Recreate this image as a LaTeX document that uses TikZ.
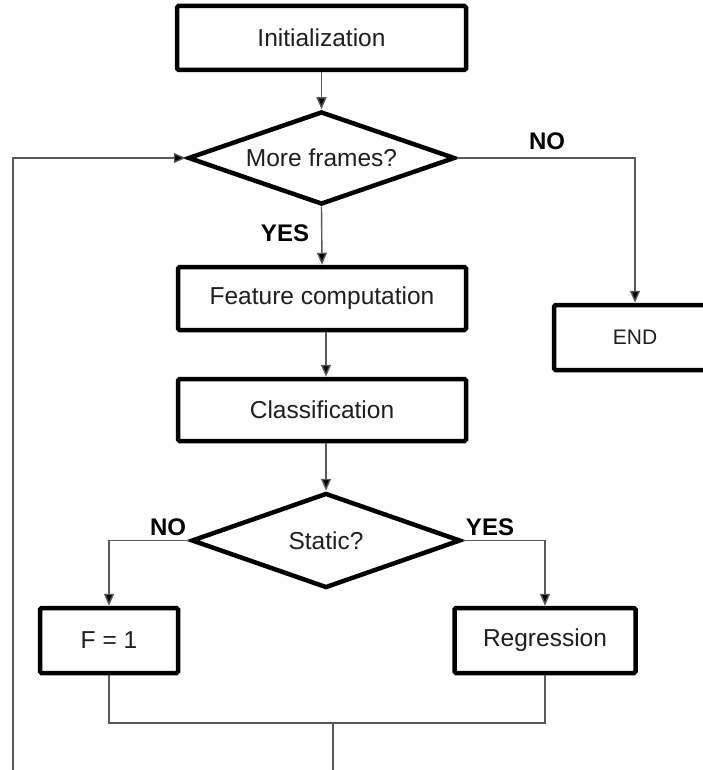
\documentclass[tikz,border=0pt]{standalone}
\usepackage{fontspec}
\setmainfont{Liberation Sans}
\usetikzlibrary{shapes.geometric,arrows.meta}
\tikzset{
  boxnode/.style={draw=black, line width=4.5pt, rounded corners=1.5pt, fill=white, inner sep=0pt,
    text=black!88, font=\fontsize{24.5}{28}\selectfont},
  decnode/.style={diamond, draw=black, line width=4.5pt, fill=white, inner sep=0pt},
  dectext/.style={text=black!88, font=\fontsize{24.5}{28}\selectfont, inner sep=0pt},
  conn/.style={draw=black!65, line width=1.4pt},
  arr/.style={conn, -{Triangle[width=10pt,length=12pt,fill=black]}},
  lbl/.style={font=\bfseries\fontsize{24}{28}\selectfont, text=black, inner sep=0pt}
}
\begin{document}
\begin{tikzpicture}[x=1pt,y=-1pt]
\useasboundingbox (0,0) rectangle (703,770);
\clip (0,0) rectangle (703,770);
\fill[white] (0,0) rectangle (703,770);

\node[boxnode, minimum width=289pt, minimum height=64pt] (init) at (321.5,38) {Initialization};
\node[decnode, minimum width=267pt, minimum height=93pt] (more) at (321.5,158) {};
\node[dectext] (moretext) at (more.center) {More frames?};
\node[boxnode, minimum width=288pt, minimum height=63pt] (feat) at (322,298.5) {Feature computation};
\node[boxnode, minimum width=288pt, minimum height=62pt] (cls) at (322,410) {Classification};
\node[decnode, minimum width=269pt, minimum height=95pt] (stat) at (326,540.5) {};
\node[dectext] (stattext) at (stat.center) {Static?};
\node[boxnode, minimum width=162pt, minimum height=65pt, font=\fontsize{21}{25}\selectfont] (end) at (635,337.5) {END};
\node[boxnode, minimum width=138pt, minimum height=65pt] (fone) at (109,640.5) {F = 1};
\node[boxnode, minimum width=181pt, minimum height=65pt] (reg) at (545,640.5) {Regression};

\coordinate (merge) at (333,723);
\coordinate (mergeout) at (333,800);
\coordinate (loopbot) at (13,800);

\draw[arr] (init.south) -- (more.north);
\draw[arr] (more.south) -- (feat.north);
\draw[arr] (feat.south -| stat.north) -- (cls.north -| stat.north);
\draw[arr] (cls.south -| stat.north) -- (stat.north);
\draw[arr] (more.east) -| (end.north);
\draw[arr] (stat.west) -| (fone.north);
\draw[arr] (stat.east) -| (reg.north);
\draw[conn] (fone.south) |- (merge);
\draw[conn] (reg.south) |- (merge);
\draw[conn] (merge) -- (mergeout);
\draw[arr] (loopbot) |- (more.west);

\node[lbl] (noa) at (547,141) {NO};
\node[lbl] (yesa) at (285,233) {YES};
\node[lbl] (nob) at (168,527) {NO};
\node[lbl] (yesb) at (490,527) {YES};
\end{tikzpicture}
\end{document}
